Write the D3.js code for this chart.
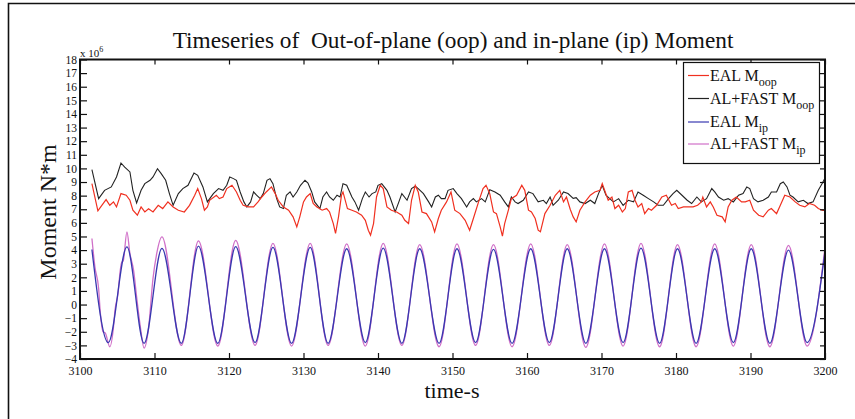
<!DOCTYPE html>
<html><head><meta charset="utf-8">
<script src="https://cdn.jsdelivr.net/npm/d3@7"></script>
<style>body{margin:0;background:#fff}svg{display:block}text{font-family:"Liberation Serif","Times New Roman",serif}</style>
</head><body><svg id="c" width="855" height="419"></svg>
<script>
// ---- data (units: 1e6 N*m, time in s) ----
const xTickValues = [3100,3110,3120,3130,3140,3150,3160,3170,3180,3190,3200];
const yTickValues = [-4,-3,-2,-1,0,1,2,3,4,5,6,7,8,9,10,11,12,13,14,15,16,17,18];
const seriesNames = ["EAL M", "AL+FAST M", "EAL M", "AL+FAST M"];
const seriesSubs = ["oop", "oop", "ip", "ip"];

const alfastOop = [[3101.6,9.91],[3102.5,7.78],[3103.3,8.39],[3104.2,8.64],[3104.9,9.37],[3105.5,10.4],[3106.0,10.1],[3106.7,9.74],[3107.1,8.39],[3107.6,7.46],[3108.2,8.39],[3108.7,8.88],[3109.4,9.13],[3109.8,9.37],[3110.4,9.98],[3110.9,9.62],[3111.5,9.13],[3112.0,8.15],[3112.5,7.29],[3113.2,8.15],[3113.8,8.52],[3114.5,8.76],[3115.3,9.66],[3115.8,9.49],[3116.5,8.64],[3117.1,7.54],[3117.9,8.15],[3118.6,8.52],[3119.2,8.39],[3119.7,8.76],[3120.1,9.37],[3120.6,9.25],[3121.0,9.13],[3121.5,8.27],[3122.0,7.54],[3122.4,7.17],[3122.9,7.54],[3123.3,8.27],[3123.7,8.03],[3124.2,7.78],[3124.6,8.15],[3125.1,9.13],[3125.5,9.25],[3125.9,8.88],[3126.4,7.78],[3126.8,7.17],[3127.3,7.05],[3127.7,8.03],[3128.2,8.27],[3128.6,7.9],[3129.1,8.27],[3129.6,8.76],[3130.2,9.13],[3130.6,8.93],[3131.1,8.27],[3131.5,7.54],[3132.2,7.05],[3132.6,7.9],[3133.1,8.27],[3133.5,7.9],[3134.0,7.66],[3134.5,8.03],[3134.9,7.9],[3135.3,8.88],[3135.8,8.76],[3136.5,7.9],[3136.9,7.54],[3137.4,6.93],[3137.9,7.78],[3138.3,8.27],[3138.8,7.9],[3139.2,8.15],[3139.7,8.27],[3140.0,8.76],[3140.5,8.88],[3141.2,8.39],[3141.6,7.9],[3142.3,6.8],[3142.8,7.54],[3143.2,8.15],[3143.9,7.66],[3144.5,8.52],[3145.0,8.69],[3145.4,8.52],[3146.1,8.15],[3146.8,7.54],[3147.2,7.17],[3147.7,7.9],[3148.1,8.03],[3148.5,7.78],[3149.0,7.78],[3149.4,8.39],[3150.1,8.52],[3150.6,8.15],[3151.2,7.78],[3151.9,7.17],[3152.3,7.54],[3152.8,7.78],[3153.2,7.54],[3153.9,7.78],[3154.4,7.54],[3155.0,8.44],[3155.7,8.27],[3156.4,8.03],[3157.0,7.54],[3157.5,7.17],[3157.9,7.9],[3158.4,7.54],[3158.8,7.42],[3159.5,7.66],[3160.2,8.27],[3160.8,8.15],[3161.5,7.54],[3162.2,7.66],[3162.6,7.42],[3163.1,7.9],[3163.5,7.29],[3164.2,7.66],[3164.9,8.27],[3165.5,8.15],[3166.2,7.8],[3166.6,7.85],[3167.1,7.54],[3167.8,7.42],[3168.5,7.66],[3169.1,7.42],[3169.6,8.15],[3170.1,8.76],[3170.6,8.03],[3171.1,7.78],[3171.6,7.54],[3172.3,7.78],[3172.9,7.29],[3173.6,7.66],[3174.3,7.54],[3174.9,8.27],[3175.6,8.03],[3176.3,7.78],[3177.0,7.54],[3177.6,7.29],[3178.3,7.29],[3179.0,7.78],[3179.6,8.15],[3180.1,8.39],[3180.8,8.03],[3181.5,7.66],[3182.1,7.42],[3182.8,7.9],[3183.4,7.54],[3184.1,7.78],[3184.8,8.52],[3185.2,8.27],[3185.7,7.9],[3186.4,7.66],[3187.0,7.78],[3187.7,7.54],[3188.4,8.03],[3189.0,8.15],[3189.5,8.64],[3189.9,8.52],[3190.4,7.78],[3191.0,7.54],[3191.7,7.66],[3192.4,7.9],[3192.8,8.27],[3193.5,8.27],[3194.0,8.88],[3194.4,9.0],[3194.9,8.64],[3195.3,8.03],[3195.7,7.9],[3196.4,7.54],[3197.1,7.66],[3197.7,7.42],[3198.4,7.54],[3199.1,8.39],[3199.6,8.88],[3200.0,9.3]];

const ealOop = [[3101.6,8.88],[3102.4,6.88],[3103.1,7.42],[3103.5,7.71],[3104.0,7.29],[3104.5,7.54],[3104.9,7.17],[3105.5,8.15],[3106.2,8.03],[3106.7,7.66],[3107.1,6.93],[3107.7,6.56],[3108.2,7.17],[3108.7,6.8],[3109.2,7.03],[3109.8,6.8],[3110.5,7.29],[3111.1,7.05],[3111.8,7.54],[3112.5,7.17],[3113.2,6.93],[3114.0,6.8],[3114.7,7.29],[3115.4,8.03],[3115.8,8.52],[3116.3,7.78],[3116.7,6.93],[3117.1,7.17],[3117.4,7.66],[3118.3,8.03],[3118.7,7.78],[3119.2,7.9],[3119.7,8.52],[3120.4,8.76],[3121.0,8.27],[3121.5,7.66],[3121.9,7.29],[3122.6,7.17],[3123.3,7.17],[3123.9,7.54],[3124.4,7.9],[3125.0,8.27],[3125.7,8.64],[3126.2,8.15],[3126.6,7.66],[3127.3,7.17],[3128.0,6.93],[3128.6,6.44],[3129.1,5.7],[3129.5,6.44],[3130.0,7.54],[3130.4,7.9],[3130.9,8.15],[3131.3,7.42],[3131.8,7.17],[3132.5,6.93],[3133.1,7.05],[3133.5,6.8],[3134.0,5.95],[3134.3,5.22],[3134.7,6.44],[3135.1,8.03],[3135.3,8.27],[3135.9,7.05],[3136.5,6.93],[3137.1,6.8],[3137.8,6.56],[3138.3,6.19],[3138.7,5.46],[3139.0,5.09],[3139.4,5.95],[3139.8,7.9],[3140.3,8.76],[3140.7,8.52],[3141.2,7.17],[3141.8,6.93],[3142.5,6.8],[3143.2,6.56],[3143.6,6.19],[3144.1,5.95],[3144.5,7.66],[3145.0,8.76],[3145.4,8.27],[3145.9,6.8],[3146.5,6.68],[3147.2,6.07],[3147.6,5.34],[3148.1,6.32],[3148.5,6.93],[3149.2,7.54],[3149.8,8.27],[3150.3,6.93],[3151.0,6.68],[3151.7,6.19],[3152.1,5.7],[3152.3,5.46],[3152.8,6.32],[3153.5,7.54],[3154.1,8.52],[3154.5,8.76],[3155.0,8.15],[3155.5,6.8],[3155.9,6.68],[3156.4,5.7],[3156.7,5.02],[3157.0,5.95],[3157.5,6.93],[3157.9,7.78],[3158.6,8.03],[3159.3,8.76],[3159.7,8.39],[3160.2,6.93],[3160.6,6.8],[3161.1,6.32],[3161.5,5.46],[3161.8,5.34],[3162.4,6.68],[3163.1,7.29],[3163.8,8.03],[3164.4,8.39],[3164.9,7.54],[3165.3,7.9],[3165.8,7.0],[3166.2,6.44],[3166.6,6.07],[3167.1,6.93],[3167.8,7.54],[3168.5,8.03],[3169.1,8.27],[3169.8,8.39],[3170.1,8.88],[3170.5,8.27],[3170.9,7.66],[3171.4,7.9],[3171.8,7.05],[3172.3,7.29],[3172.8,6.8],[3173.2,7.05],[3173.6,8.27],[3174.1,8.39],[3174.5,7.66],[3174.9,7.17],[3175.4,7.42],[3175.8,6.68],[3176.3,7.05],[3176.7,6.93],[3177.4,7.29],[3178.1,7.9],[3178.7,8.03],[3179.4,7.29],[3179.9,7.42],[3180.3,7.05],[3181.0,7.17],[3181.6,7.17],[3182.3,7.17],[3182.9,7.29],[3183.4,7.54],[3183.6,7.9],[3184.1,7.17],[3184.6,7.54],[3185.0,7.17],[3185.5,6.56],[3186.2,6.44],[3186.6,6.07],[3187.0,7.17],[3187.5,7.66],[3188.1,7.9],[3188.8,7.54],[3189.3,7.54],[3189.9,7.66],[3190.4,6.93],[3191.1,6.56],[3191.7,6.44],[3192.4,6.93],[3192.8,7.05],[3193.5,6.68],[3193.9,7.17],[3194.6,8.03],[3195.3,7.9],[3196.0,7.54],[3196.6,7.29],[3197.3,7.17],[3197.9,7.42],[3198.6,7.29],[3199.1,7.05],[3199.6,6.93],[3200.0,6.9]];

const ealIp = [[3101.6,4.04],[3103.8,-2.8],[3106.3,4.23],[3108.6,-2.85],[3111.0,4.12],[3113.6,-2.85],[3115.9,4.29],[3118.5,-2.85],[3120.9,4.25],[3123.5,-2.8],[3125.9,4.2],[3128.4,-2.85],[3130.9,4.2],[3133.3,-2.85],[3135.8,4.1],[3138.3,-2.8],[3140.7,4.15],[3143.2,-2.85],[3145.6,4.1],[3148.2,-2.85],[3150.6,4.1],[3153.1,-2.8],[3155.5,4.05],[3158.0,-2.85],[3160.5,4.1],[3163.0,-2.8],[3165.4,4.1],[3167.9,-2.85],[3170.4,4.1],[3172.9,-2.8],[3175.3,4.15],[3177.8,-2.85],[3180.2,4.1],[3182.7,-2.85],[3185.2,4.1],[3187.7,-2.8],[3190.1,4.1],[3192.6,-2.85],[3195.1,4.0],[3197.6,-2.8],[3200.0,3.9]];

const alfastIp = [[3101.6,4.85],[3102.0,2.77],[3102.5,1.18],[3102.7,-0.4],[3103.1,-2.0],[3103.4,-2.1],[3104.0,-3.1],[3104.5,-1.63],[3104.7,-0.4],[3105.1,0.8],[3105.4,2.5],[3105.6,3.1],[3105.8,3.2],[3106.3,5.34],[3106.7,3.75],[3107.2,2.5],[3107.6,0.57],[3108.1,-1.63],[3108.6,-3.2],[3109.2,-1.75],[3109.8,1.92],[3110.3,3.75],[3111.0,4.97],[3113.6,-3.0],[3115.9,4.68],[3118.5,-3.05],[3120.9,4.72],[3123.5,-3.0],[3125.9,4.5],[3128.4,-3.05],[3130.9,4.5],[3133.3,-3.0],[3135.8,4.45],[3138.3,-3.05],[3140.7,4.5],[3143.2,-3.0],[3145.6,4.4],[3148.2,-3.1],[3150.6,4.45],[3153.1,-3.0],[3155.5,4.4],[3158.0,-3.1],[3160.5,4.45],[3163.0,-3.0],[3165.4,4.4],[3167.9,-3.15],[3170.4,4.45],[3172.9,-3.05],[3175.3,4.5],[3177.8,-3.1],[3180.2,4.4],[3182.7,-3.1],[3185.2,4.45],[3187.7,-3.05],[3190.1,4.4],[3192.6,-3.1],[3195.1,4.35],[3197.6,-3.05],[3200.0,4.2]];

// ---- layout ----
const svg = d3.select("#c");
const L = 80, R = 825, T = 59.5, B = 359;
const x = d3.scaleLinear().domain([3100, 3200]).range([L, R]);
const y = d3.scaleLinear().domain([-4, 18]).range([B, T]);

// outer frame (left and top)
svg.append("path").attr("d", "M8.5,419V3.5H855").attr("fill","none").attr("stroke","#111").attr("stroke-width",1.6);

// title
svg.append("text").attr("x", 453).attr("y", 48).attr("text-anchor","middle")
  .attr("font-size", 23.3).attr("fill","#111").style("white-space","pre")
  .text("Timeseries of  Out-of-plane (oop) and in-plane (ip) Moment");

// clip
svg.append("clipPath").attr("id","clip").append("rect").attr("x",L).attr("y",T).attr("width",R-L).attr("height",B-T);

const line = d3.line().x(d => x(d[0])).y(d => y(d[1]));
const sline = d3.line().x(d => x(d[0])).y(d => y(d[1])).curve(d3.curveMonotoneX);
const g = svg.append("g").attr("clip-path","url(#clip)");
g.append("path").datum(alfastOop).attr("d", line).attr("fill","none").attr("stroke","#222").attr("stroke-width",1.1);
g.append("path").datum(ealOop).attr("d", line).attr("fill","none").attr("stroke","#f03020").attr("stroke-width",1.2);
g.append("path").datum(alfastIp).attr("d", sline).attr("fill","none").attr("stroke","#d070c8").attr("stroke-width",1.3);
g.append("path").datum(ealIp).attr("d", sline).attr("fill","none").attr("stroke","#3838b0").attr("stroke-width",1.3);

// axes
function styleAxis(sel){
  sel.attr("font-family", null);
  sel.select(".domain").remove();
  sel.selectAll(".tick line").attr("stroke","#111").attr("stroke-width",1.2);
  sel.selectAll(".tick text").attr("fill","#111").attr("font-family","'Liberation Serif',serif");
}
svg.append("g").attr("transform",`translate(${L},0)`)
  .call(d3.axisLeft(y).tickValues(yTickValues).tickSizeInner(-7).tickSizeOuter(0).tickPadding(3).tickFormat(d3.format("d")))
  .call(styleAxis).call(s => s.selectAll(".tick text").attr("font-size",11.5));
svg.append("g").attr("transform",`translate(${R},0)`)
  .call(d3.axisRight(y).tickValues(yTickValues).tickSizeInner(-5).tickSizeOuter(0).tickFormat(""))
  .call(styleAxis);
svg.append("g").attr("transform",`translate(0,${B})`)
  .call(d3.axisBottom(x).tickValues(xTickValues).tickSizeInner(-6).tickSizeOuter(0).tickPadding(7).tickFormat(d3.format("d")))
  .call(styleAxis).call(s => s.selectAll(".tick text").attr("font-size",12));
svg.append("g").attr("transform",`translate(0,${T})`)
  .call(d3.axisTop(x).tickValues(xTickValues).tickSizeInner(-5).tickSizeOuter(0).tickFormat(""))
  .call(styleAxis);

// plot frame
svg.append("rect").attr("x",L).attr("y",T).attr("width",R-L).attr("height",B-T)
  .attr("fill","none").attr("stroke","#111").attr("stroke-width",2);

// exponent label
const ex = svg.append("text").attr("x", 80).attr("y", 56.5).attr("font-size", 11).attr("fill","#111");
ex.append("tspan").text("x 10");
ex.append("tspan").attr("font-size",8).attr("dy",-5).text("6");

// axis labels
svg.append("text").attr("transform","translate(55.5,212) rotate(-90)").attr("text-anchor","middle")
  .attr("font-size",24).attr("fill","#111").text("Moment N*m");
svg.append("text").attr("x",452).attr("y",397.5).attr("text-anchor","middle")
  .attr("font-size",22).attr("fill","#111").text("time-s");

// legend
const colors = ["#f03020","#222","#3838b0","#d070c8"];
const lg = svg.append("g");
lg.append("rect").attr("x",683.5).attr("y",62.5).attr("width",136).attr("height",101)
  .attr("fill","#fff").attr("stroke","#111").attr("stroke-width",1.2);
const rows = [80.5, 103.5, 127, 149];
seriesNames.forEach((n,i) => {
  lg.append("line").attr("x1",688).attr("x2",709).attr("y1",rows[i]-5).attr("y2",rows[i]-5)
    .attr("stroke",colors[i]).attr("stroke-width",1.2);
  const t = lg.append("text").attr("x",710).attr("y",rows[i]).attr("font-size",16).attr("fill","#111");
  t.append("tspan").text(n);
  t.append("tspan").attr("font-size",12).attr("dy",5).text(seriesSubs[i]);
});
</script></body></html>
